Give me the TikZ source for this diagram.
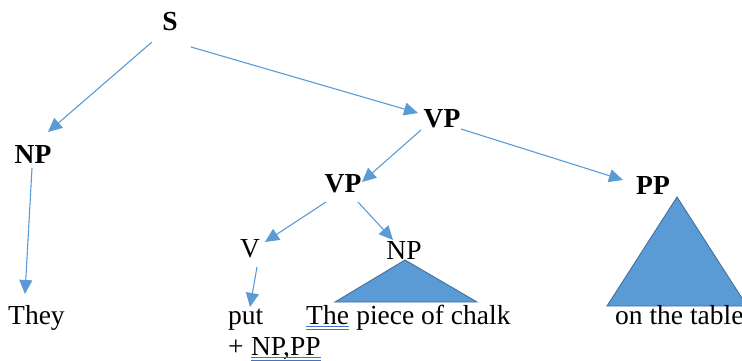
\documentclass[tikz,border=0pt]{standalone}
\usepackage{fontspec}
\setmainfont{Liberation Serif}
\usetikzlibrary{arrows.meta,calc}
\definecolor{linkblue}{HTML}{5B9BD5}
\definecolor{edgeblue}{HTML}{41719C}
\definecolor{ulblue}{HTML}{4472C4}
\begin{document}
\begin{tikzpicture}[x=1pt,y=-1pt,
  cat/.style={font=\fontsize{27.5}{32}\selectfont\bfseries, inner sep=0pt},
  lex/.style={font=\fontsize{27.5}{32}\selectfont, inner sep=0pt},
  word/.style={font=\fontsize{27.5}{32}\selectfont, inner sep=0pt, anchor=base west},
  arr/.style={draw=linkblue, line width=1.1pt, -{Triangle[length=14pt,width=13pt]}},
  tri/.style={fill=linkblue, draw=edgeblue, line width=0.9pt, line join=miter},
  uline/.style={draw=ulblue, line width=0.8pt}]
\useasboundingbox (0,0) rectangle (742,361);

% phrase labels
\node[cat] (S)   at (170,22)  {S};
\node[cat] (NPl) at (33,154)  {NP};
\node[cat] (VPa) at (442,119) {VP};
\node[cat] (VPb) at (343,184) {VP};
\node[cat] (PP)  at (653,185) {PP};
\node[lex] (V)   at (250,249) {V};
\node[lex] (NPm) at (404,250) {NP};

% collapsed subtrees
\draw[tri] ($(NPm)+(1,10)$) -- (335,302) -- (477,302) -- cycle;
\draw[tri] ($(PP)+(24,12)$) -- (607,306) -- (747,306) -- cycle;

% terminal strings
\node[word] (they)  at (8,324)   {They};
\node[word] (put)   at (228,324) {put};
\node[word] (plus)  at (228,355) {+};
\node[word] (npp)   at ($(plus.base east)+(6.9,0)$) {NP,PP};
\node[word] (the)   at (306,324) {The};
\node[word] (chalk) at ($(the.base east)+(6.9,0)$) {piece of chalk};
\node[word] (table) at (615,324) {on the table};

% double underlines
\foreach \n in {the,npp}{
  \draw[uline] ($(\n.base west)+(0,2.5)$) -- ($(\n.base east)+(0,2.5)$);
  \draw[uline] ($(\n.base west)+(0,5.5)$) -- ($(\n.base east)+(0,5.5)$);
}

% branches
\draw[arr] ($(S)+(-18,20)$)   -- ($(NPl)+(15,-22)$);
\draw[arr] ($(S)+(21,25)$)    -- ($(VPa)+(-24,-6)$);
\draw[arr] ($(NPl)+(-1,14)$)  -- ($(they.base west)+(17,-30)$);
\draw[arr] ($(VPa)+(-21,11)$) -- ($(VPb)+(19,-2)$);
\draw[arr] ($(VPa)+(19,10)$)  -- ($(PP)+(-30,-5)$);
\draw[arr] ($(VPb)+(-17,18)$) -- ($(V)+(15,-7)$);
\draw[arr] ($(VPb)+(15,18)$)  -- ($(NPm)+(-11,-10)$);
\draw[arr] ($(V)+(7,18)$)     -- ($(put.base west)+(22,-17)$);
\end{tikzpicture}
\end{document}
